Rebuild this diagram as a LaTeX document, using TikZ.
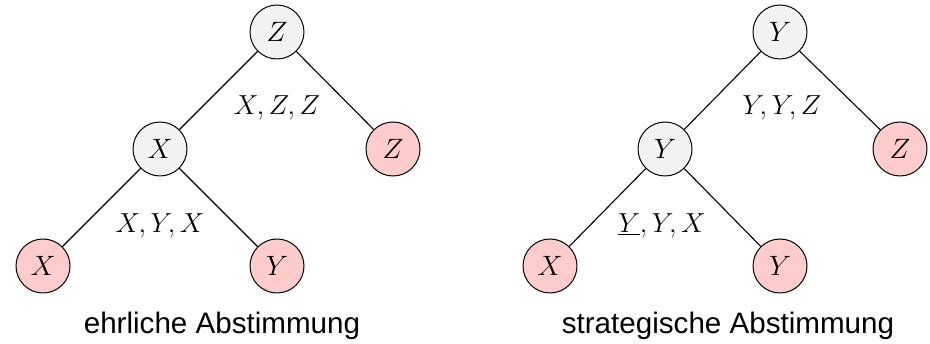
\RequirePackage{fix-cm}
\documentclass[tikz,border=0pt]{standalone}
\usepackage{fontspec}
\setsansfont{Liberation Sans}
\begin{document}
\begin{tikzpicture}[x=1pt,y=-1pt,
  vnode/.style={circle,draw,line width=1pt,minimum size=54pt,inner sep=0pt,font=\fontsize{28}{34}\selectfont},
  innernode/.style={vnode,fill=gray!10},
  leafnode/.style={vnode,fill=red!20},
  conn/.style={line width=1.1pt},
  lbl/.style={font=\fontsize{27.5}{33}\selectfont},
  captxt/.style={font=\sffamily\fontsize{29.6}{36}\selectfont,anchor=base}]
\useasboundingbox (0,0) rectangle (930,344);
% left tree
\node[innernode] (lr) at (277,32) {$Z$};
\node[innernode] (lm) at (160,149) {$X$};
\node[leafnode] (lz) at (393,149) {$Z$};
\node[leafnode] (lx) at (43,266) {$X$};
\node[leafnode] (ly) at (277,266) {$Y$};
\draw[conn] (lr) -- (lm);
\draw[conn] (lr) -- (lz);
\draw[conn] (lm) -- (lx);
\draw[conn] (lm) -- (ly);
\node[lbl] (l1) at (277,108) {$X,Z,Z$};
\node[lbl] (l2) at (160,226) {$X,Y,X$};
\node[captxt] (c1) at (222,334) {ehrliche Abstimmung};
% right tree
\node[innernode] (rr) at (780,32) {$Y$};
\node[innernode] (rm) at (665,149) {$Y$};
\node[leafnode] (rz) at (900,149) {$Z$};
\node[leafnode] (rx) at (550,266) {$X$};
\node[leafnode] (ry) at (780,266) {$Y$};
\draw[conn] (rr) -- (rm);
\draw[conn] (rr) -- (rz);
\draw[conn] (rm) -- (rx);
\draw[conn] (rm) -- (ry);
\node[lbl] (r1) at (782,108) {$Y,Y,Z$};
\node[lbl] (r2) at (662,226) {$\underline{Y},Y,X$};
\node[captxt] (c2) at (728,334) {strategische Abstimmung};
\end{tikzpicture}
\end{document}
